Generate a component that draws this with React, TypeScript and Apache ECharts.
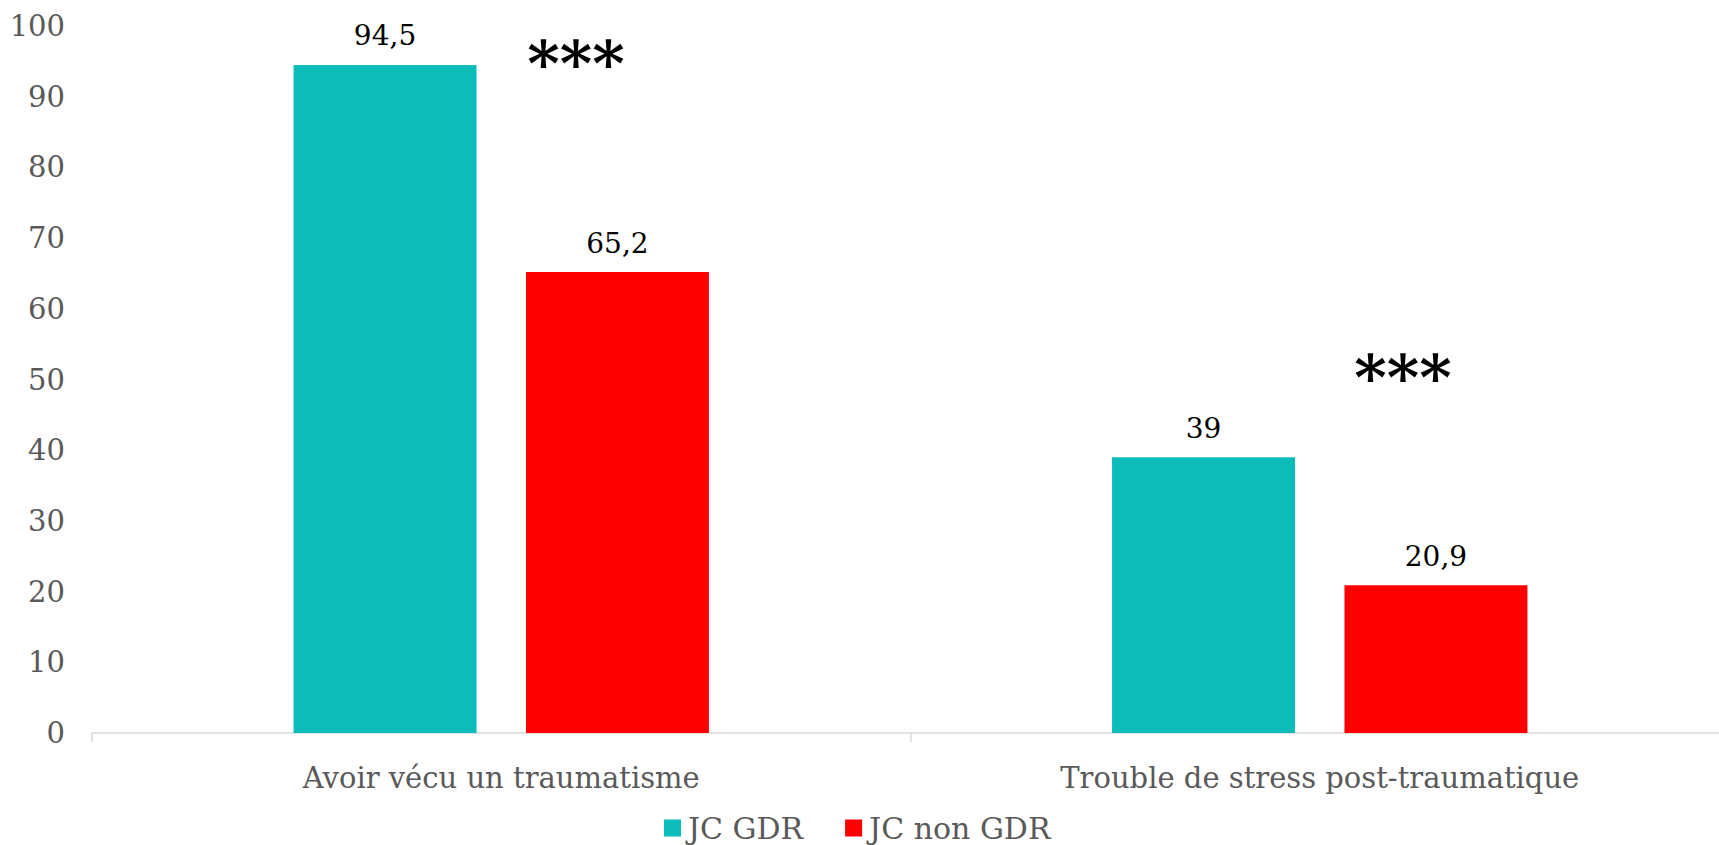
import React, { useEffect, useRef } from "react";
import * as echarts from "echarts";

const categories = ["Avoir vécu un traumatisme", "Trouble de stress post-traumatique"];
const seriesNames = ["JC GDR", "JC non GDR"];
const gdrValues = [94.5, 39];
const nonGdrValues = [65.2, 20.9];
const yTicks = { min: 0, max: 100, interval: 10 };
const significance = ["***", "***"];

const FONT = "'DejaVu Serif', serif";
const GRAY = "#595959";

export default function App() {
  const ref = useRef<HTMLDivElement>(null);
  useEffect(() => {
    if (!ref.current) return;
    const chart = echarts.init(ref.current, undefined, { renderer: "svg" });
    const fmt = (p: any) => String(p.value).replace(".", ",");
    chart.setOption({
      animation: false,
      backgroundColor: "#ffffff",
      textStyle: { fontFamily: FONT },
      grid: { left: 92, right: 0, top: 26, bottom: 112, containLabel: false },
      legend: {
        top: 811,
        left: 664,
        padding: 0,
        itemWidth: 17,
        itemHeight: 17,
        itemGap: 42,
        icon: "rect",
        textStyle: { fontFamily: FONT, fontSize: 30, lineHeight: 34, color: GRAY, padding: [0, 0, 0, 2] },
        data: seriesNames,
      },
      xAxis: {
        type: "category",
        data: categories,
        axisLine: { show: true, lineStyle: { color: "#d9d9d9", width: 1.5 } },
        axisTick: { show: true, length: 9, alignWithLabel: false, lineStyle: { color: "#d9d9d9", width: 1.5 } },
        axisLabel: { color: GRAY, fontFamily: FONT, fontSize: 29, margin: 30 },
        splitLine: { show: false },
      },
      yAxis: {
        type: "value",
        min: yTicks.min,
        max: yTicks.max,
        interval: yTicks.interval,
        axisLine: { show: false },
        axisTick: { show: false },
        splitLine: { show: false },
        axisLabel: { color: GRAY, fontFamily: FONT, fontSize: 29, margin: 27 },
      },
      series: [
        {
          name: seriesNames[0],
          type: "bar",
          data: gdrValues,
          barWidth: 183,
          barGap: "27%",
          itemStyle: { color: "#0bbcb8" },
          label: { show: true, position: "top", distance: 15, color: "#000", fontFamily: FONT, fontSize: 28, formatter: fmt },
        },
        {
          name: seriesNames[1],
          type: "bar",
          data: nonGdrValues,
          barWidth: 183,
          barGap: "27%",
          itemStyle: { color: "#ff0000" },
          label: { show: true, position: "top", distance: 15, color: "#000", fontFamily: FONT, fontSize: 28, formatter: fmt },
        },
      ],
      graphic: [
        {
          type: "text",
          x: 576,
          y: 63,
          style: { text: significance[0], font: "bold 62px 'DejaVu Serif'", fill: "#000", align: "center", verticalAlign: "middle" },
        },
        {
          type: "text",
          x: 1403,
          y: 377,
          style: { text: significance[1], font: "bold 62px 'DejaVu Serif'", fill: "#000", align: "center", verticalAlign: "middle" },
        },
      ],
    });
    return () => chart.dispose();
  }, []);
  return (
    <div style={{ position: "absolute", left: 0, top: 0, width: 1719, height: 845, overflow: "hidden" }}>
      <div ref={ref} style={{ width: 1729, height: 845 }} />
    </div>
  );
}
